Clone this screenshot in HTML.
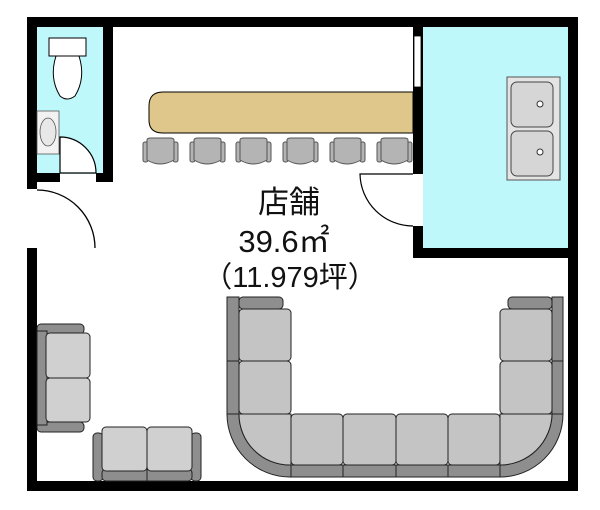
<!DOCTYPE html>
<html><head><meta charset="utf-8"><style>
html,body{margin:0;padding:0;background:#fff;}
svg{display:block;}
text{font-family:"Liberation Sans","Noto Sans CJK JP",sans-serif;fill:#111;}
</style></head><body>
<svg width="600" height="510" viewBox="0 0 600 510" xmlns="http://www.w3.org/2000/svg">
<!-- rooms -->
<rect x="36" y="27" width="68" height="147" fill="#bff8fb"/>
<rect x="423" y="27" width="145" height="222" fill="#bff8fb"/>
<!-- walls -->
<g fill="#000">
<rect x="27" y="17" width="551" height="10"/>
<rect x="27" y="17" width="10" height="172"/>
<rect x="27" y="248" width="10" height="243"/>
<rect x="27" y="481" width="551" height="10"/>
<rect x="568" y="17" width="10" height="474"/>
<rect x="103" y="17" width="10" height="165"/>
<rect x="36" y="173" width="24" height="9"/>
<rect x="96" y="173" width="17" height="9"/>
<rect x="413" y="17" width="10" height="157"/>
<rect x="413" y="226" width="10" height="32"/>
<rect x="413" y="248" width="165" height="10"/>
</g>
<rect x="414" y="36" width="7" height="51" fill="#fff" stroke="#000" stroke-width="0.8"/>
<!-- toilet -->
<rect x="49" y="38" width="37" height="18" fill="#fff" stroke="#000" stroke-width="1"/>
<path d="M56 56 Q49 78 60 96 Q67 102 75 96 Q86 78 79 56 Z" fill="#fff" stroke="#000" stroke-width="1"/>
<rect x="37" y="111" width="22" height="43" fill="#f2f2f2" stroke="#555" stroke-width="0.8"/>
<ellipse cx="48" cy="132" rx="8" ry="14" fill="#e8e8e8" stroke="#555" stroke-width="0.8"/>
<!-- toilet door -->
<path d="M60 173 L60 137 A36 36 0 0 1 96 173 Z" fill="#fff" stroke="#000" stroke-width="1.2"/>
<!-- entry door -->
<rect x="37" y="189" width="60" height="59" fill="#fff"/>
<path d="M37 190 A58 58 0 0 1 95 248" fill="none" stroke="#000" stroke-width="1.3"/>
<!-- kitchen door -->
<rect x="413" y="174" width="10" height="52" fill="#fff"/>
<path d="M413 174 L360 174 A53 53 0 0 0 413 226" fill="none" stroke="#000" stroke-width="1.2"/>
<!-- sink -->
<rect x="507" y="77" width="53" height="103" fill="#e4e4e4" stroke="#555" stroke-width="1"/>
<rect x="511" y="82" width="42" height="45" rx="6" fill="#d6d6d6" stroke="#444" stroke-width="1"/>
<rect x="511" y="131" width="42" height="45" rx="6" fill="#d6d6d6" stroke="#444" stroke-width="1"/>
<circle cx="540" cy="104" r="3" fill="#fff" stroke="#333"/>
<circle cx="540" cy="152" r="3" fill="#fff" stroke="#333"/>
<!-- counter -->
<path d="M413 92 L163 92 Q149 92 149 106 L149 120 Q149 133 163 133 L413 133 Z" fill="#dfc68b" stroke="#000" stroke-width="1"/>
<!-- chairs -->
<g fill="#b4b4b4" stroke="#555" stroke-width="1">
<g transform="translate(143,138)"><rect x="0" y="4" width="5" height="20" rx="2"/><rect x="30" y="4" width="5" height="20" rx="2"/><path d="M4 2 Q4 0 8 0 L27 0 Q31 0 31 2 L31 22 Q17 30 4 22 Z"/></g>
<g transform="translate(190,138)"><rect x="0" y="4" width="5" height="20" rx="2"/><rect x="30" y="4" width="5" height="20" rx="2"/><path d="M4 2 Q4 0 8 0 L27 0 Q31 0 31 2 L31 22 Q17 30 4 22 Z"/></g>
<g transform="translate(236,138)"><rect x="0" y="4" width="5" height="20" rx="2"/><rect x="30" y="4" width="5" height="20" rx="2"/><path d="M4 2 Q4 0 8 0 L27 0 Q31 0 31 2 L31 22 Q17 30 4 22 Z"/></g>
<g transform="translate(283,138)"><rect x="0" y="4" width="5" height="20" rx="2"/><rect x="30" y="4" width="5" height="20" rx="2"/><path d="M4 2 Q4 0 8 0 L27 0 Q31 0 31 2 L31 22 Q17 30 4 22 Z"/></g>
<g transform="translate(330,138)"><rect x="0" y="4" width="5" height="20" rx="2"/><rect x="30" y="4" width="5" height="20" rx="2"/><path d="M4 2 Q4 0 8 0 L27 0 Q31 0 31 2 L31 22 Q17 30 4 22 Z"/></g>
<g transform="translate(377,138)"><rect x="0" y="4" width="5" height="20" rx="2"/><rect x="30" y="4" width="5" height="20" rx="2"/><path d="M4 2 Q4 0 8 0 L27 0 Q31 0 31 2 L31 22 Q17 30 4 22 Z"/></g>
</g>
<!-- text -->
<text x="289" y="213" font-size="31" text-anchor="middle">店舗</text>
<text x="284" y="252" font-size="31" text-anchor="middle">39.6㎡</text>
<text x="290" y="287" font-size="29" text-anchor="middle">（11.979坪）</text>
<!-- U sofa -->
<g stroke="#222" stroke-width="1">
<path d="M227 297 L239 297 L239 414 A51 51 0 0 0 290 465 L500 465 A52 52 0 0 0 552 414 L552 297 L563 297 L563 414 A63 63 0 0 1 500 477 L290 477 A63 63 0 0 1 227 414 Z" fill="#8e8e8e"/>
<rect x="239" y="297" width="44" height="12" rx="4" fill="#8e8e8e"/>
<rect x="508" y="297" width="44" height="12" rx="4" fill="#8e8e8e"/>
<g fill="#c4c4c4">
<rect x="239" y="309" width="52" height="52" rx="4"/>
<rect x="239" y="361" width="52" height="53" rx="4"/>
<path d="M239 414 L291 414 L291 465 L290 465 A51 51 0 0 1 239 414 Z"/>
<rect x="291" y="414" width="52" height="51" rx="4"/>
<rect x="343" y="414" width="53" height="51" rx="4"/>
<rect x="396" y="414" width="52" height="51" rx="4"/>
<rect x="448" y="414" width="52" height="51" rx="4"/>
<path d="M500 414 L552 414 A52 52 0 0 1 500 465 Z"/>
<rect x="500" y="309" width="52" height="52" rx="4"/>
<rect x="500" y="361" width="52" height="53" rx="4"/>
</g>
<path d="M291 465 L291 477 M343 465 L343 477 M396 465 L396 477 M448 465 L448 477 M500 465 L500 477 M227 414 L239 414 M552 414 L563 414 M227 361 L239 361 M552 361 L563 361" fill="none"/>
</g>
<!-- left sofa -->
<g stroke="#222" stroke-width="1">
<rect x="37" y="324" width="47" height="10" rx="4" fill="#8e8e8e"/>
<rect x="37" y="422" width="47" height="10" rx="4" fill="#8e8e8e"/>
<rect x="37" y="331" width="10" height="94" fill="#8e8e8e"/>
<rect x="46" y="333" width="44" height="45" rx="4" fill="#d0d0d0"/>
<rect x="46" y="378" width="44" height="44" rx="4" fill="#d0d0d0"/>
</g>
<!-- bottom sofa -->
<g stroke="#222" stroke-width="1">
<rect x="93" y="433" width="10" height="48" rx="4" fill="#8e8e8e"/>
<rect x="191" y="433" width="10" height="48" rx="4" fill="#8e8e8e"/>
<rect x="102" y="469" width="90" height="12" rx="4" fill="#8e8e8e"/>
<rect x="102" y="427" width="45" height="44" rx="4" fill="#d0d0d0"/>
<rect x="147" y="427" width="45" height="44" rx="4" fill="#d0d0d0"/>
<line x1="147" y1="469" x2="147" y2="481"/>
</g>
</svg>
</body></html>
